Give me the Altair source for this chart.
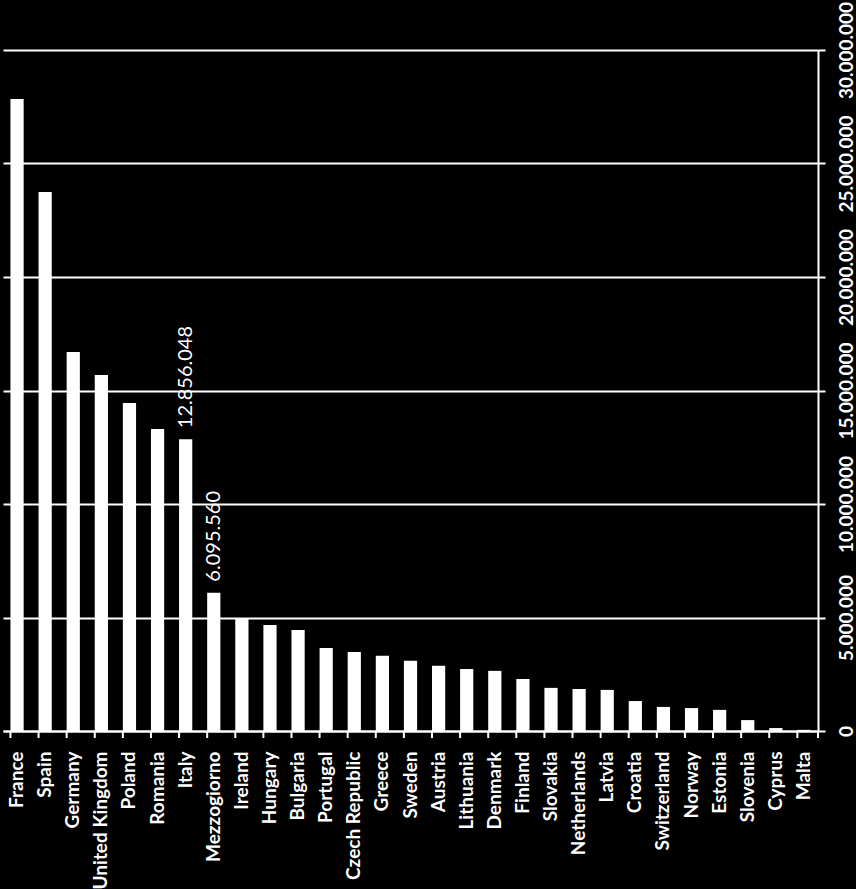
import altair as alt
import pandas as pd

countries = ["France", "Spain", "Germany", "United Kingdom", "Poland", "Romania", "Italy",
             "Mezzogiorno", "Ireland", "Hungary", "Bulgaria", "Portugal", "Czech Republic",
             "Greece", "Sweden", "Austria", "Lithuania", "Denmark", "Finland", "Slovakia",
             "Netherlands", "Latvia", "Croatia", "Switzerland", "Norway", "Estonia",
             "Slovenia", "Cyprus", "Malta"]
values = [27840000, 23740000, 16700000, 15680000, 14450000, 13300000, 12856048,
          6095560, 4980000, 4670000, 4450000, 3660000, 3480000,
          3310000, 3090000, 2870000, 2730000, 2650000, 2290000, 1900000,
          1850000, 1810000, 1320000, 1060000, 1010000, 930000,
          480000, 130000, 50000]
labelled = ["Italy", "Mezzogiorno"]
y_ticks = [0, 5000000, 10000000, 15000000, 20000000, 25000000, 30000000]

df = pd.DataFrame({"country": countries, "value": values})
df["label"] = [
    (f"{v:,}".replace(",", ".") if c in labelled else "") for c, v in zip(countries, values)
]

W, H = 815, 681
FONT = "Lato"

xscale = alt.Scale(paddingInner=0.53, paddingOuter=0.265)
yscale = alt.Scale(domain=[0, 30000000])

bars = alt.Chart(df).mark_bar(color="white").encode(
    x=alt.X("country:N", sort=countries, scale=xscale, title=None,
            axis=alt.Axis(labelAngle=270, labelAlign="right", labelBaseline="middle",
                          labelFont=FONT, labelFontWeight="bold", labelFontSize=19,
                          labelColor="white", ticks=False, labelPadding=20,
                          domainColor="white", domainWidth=2, grid=False)),
    y=alt.Y("value:Q", scale=yscale, title=None,
            axis=alt.Axis(orient="right", values=y_ticks, grid=True, gridColor="white",
                          gridWidth=2, gridOpacity=1, domainColor="white", domainWidth=2,
                          tickColor="white", tickWidth=2, tickSize=7, labelPadding=12,
                          labelAngle=270, labelAlign="center", labelBaseline="top",
                          labelFont=FONT, labelFontWeight="bold", labelFontSize=19,
                          labelColor="white",
                          labelExpr="replace(replace(format(datum.value, ','), ',', '.'), ',', '.')")),
)

ticks = alt.Chart(df).mark_rule(color="white", strokeWidth=2).encode(
    x=alt.X("country:N", sort=countries, scale=xscale, bandPosition=0),
    y=alt.value(H),
    y2=alt.value(H + 7),
)

end_tick = alt.Chart(df.head(1)).mark_rule(color="white", strokeWidth=2).encode(
    x=alt.value(W), y=alt.value(H), y2=alt.value(H + 7),
)

texts = alt.Chart(df).mark_text(
    angle=270, align="left", baseline="middle", dx=11, dy=0, color="white",
    font=FONT, fontSize=20,
).encode(
    x=alt.X("country:N", sort=countries, scale=xscale),
    y=alt.Y("value:Q", scale=yscale),
    text="label:N",
)

chart = alt.layer(bars, ticks, end_tick, texts).properties(
    width=W, height=H,
    background="black",
    autosize=alt.AutoSizeParams(type="none"),
    padding={"left": 3, "top": 50, "right": 38, "bottom": 158},
).configure_view(stroke=None)

chart.save("out.html", embed_options={"renderer": "svg", "actions": False})
